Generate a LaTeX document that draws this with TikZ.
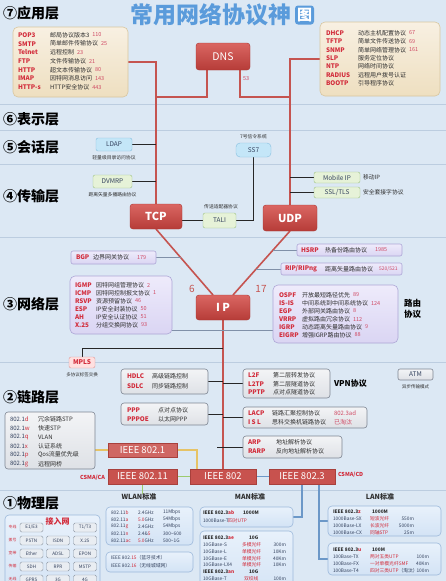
\documentclass[tikz,border=0pt]{standalone}
\usepackage{fontspec}
\setmainfont{Noto Sans CJK SC}
\usetikzlibrary{calc}
\definecolor{bgc}{HTML}{DCE8F4}
\definecolor{sepc}{HTML}{BCCDE0}
\definecolor{redL}{HTML}{C55450}
\definecolor{redT}{HTML}{DA6662}
\definecolor{redB}{HTML}{B63C38}
\definecolor{redD}{HTML}{A8332F}
\definecolor{pname}{HTML}{D22B3A}
\definecolor{numc}{HTML}{D04A64}
\definecolor{appT}{HTML}{F8F0E2}
\definecolor{appB}{HTML}{EEDFC0}
\definecolor{appD}{HTML}{D8C6A0}
\definecolor{netT}{HTML}{EEEBFB}
\definecolor{netB}{HTML}{DAD5F3}
\definecolor{netD}{HTML}{ADA6D6}
\definecolor{gryT}{HTML}{F3F4F6}
\definecolor{gryB}{HTML}{DEE1E6}
\definecolor{gryD}{HTML}{7D8592}
\definecolor{bluF}{HTML}{C4E6F8}
\definecolor{bluD}{HTML}{86BFDF}
\definecolor{grnF}{HTML}{E6F2D8}
\definecolor{grnD}{HTML}{9EC283}
\definecolor{ieeeF}{HTML}{C8524E}
\definecolor{ieeeD}{HTML}{A8403C}
\definecolor{phyT}{HTML}{E8F1FB}
\definecolor{phyB}{HTML}{D3E3F5}
\definecolor{phyD}{HTML}{9DB9DB}
\definecolor{btnF}{HTML}{E9EDF2}
\definecolor{btnD}{HTML}{8C96A3}
\definecolor{titc}{HTML}{5A9BDB}
\definecolor{txt}{HTML}{2E2E2E}
\definecolor{txtB}{HTML}{34425E}
\definecolor{gl}{HTML}{8090A8}
\definecolor{lyel}{HTML}{E6C366}
\definecolor{lgrn}{HTML}{9CCB6E}
\definecolor{lblu}{HTML}{6C98C8}
\newcommand\fsz[1]{\fontsize{#1}{#1}\selectfont}
\newcommand\rr[1]{\textcolor{pname}{#1}}
\newcommand\mkbox[7]{\node[#2, minimum width={(#5-#3)*1pt}, minimum height={(#6-#4)*1pt}] (#1) at ({(#3+#5)/2},{(#4+#6)/2}) {#7};}
\pgfdeclarelayer{bgl}
\pgfdeclarelayer{lnl}
\pgfsetlayers{bgl,lnl,main}
\tikzset{
 bx0/.style={inner sep=0pt, outer sep=0pt},
 redbox/.style={bx0, draw=redD, top color=redT, bottom color=redB, rounded corners=3pt, text=white, font=\fsz{11}\bfseries},
 appbox/.style={bx0, draw=appD, top color=appT, bottom color=appB, rounded corners=5pt, line width=0.6pt},
 netbox/.style={bx0, draw=netD, top color=netT, bottom color=netB, rounded corners=5pt, line width=0.6pt},
 grybox/.style={bx0, draw=gryD, top color=gryT, bottom color=gryB, rounded corners=3pt, line width=0.6pt},
 blubox/.style={bx0, draw=bluD, fill=bluF, rounded corners=2pt, font=\fsz{6.5}, text=txtB},
 grnbox/.style={bx0, draw=grnD, fill=grnF, rounded corners=2pt, font=\fsz{6.5}, text=txtB},
 ieeebox/.style={bx0, draw=ieeeD, fill=ieeeF, text=white, font=\fsz{9.5}},
 phybox/.style={bx0, draw=phyD, top color=phyT, bottom color=phyB, rounded corners=4pt, line width=0.6pt},
 btn/.style={bx0, draw=btnD, fill=btnF, rounded corners=1.5pt, font=\fsz{4.6}, text=txtB, minimum width=23pt, minimum height=9pt},
 pn/.style={bx0, anchor=west, font=\fsz{6.3}\bfseries, text=pname},
 pd/.style={bx0, anchor=west, font=\fsz{6}, text=txt},
 pp/.style={bx0, anchor=west, font=\fsz{5.5}, text=numc},
 capt/.style={bx0, font=\fsz{4.8}, text=txt},
 tn/.style={bx0, anchor=west, font=\fsz{4.8}, text=txtB},
 tnr/.style={bx0, anchor=east, font=\fsz{4.8}, text=txtB},
 tnb/.style={bx0, anchor=west, font=\fsz{4.8}\bfseries, text=txt},
 layer/.style={bx0, anchor=west, font=\fsz{14}\bfseries, text=black},
 redline/.style={draw=redL, line width=1.6pt},
 blk/.style={draw=black!85, line width=0.8pt},
 gline/.style={draw=gl, line width=0.9pt},
}
\begin{document}
\begin{tikzpicture}[x=1pt,y=-1pt]
\useasboundingbox (0,0) rectangle (446,581);
\begin{pgfonlayer}{bgl}
 \fill[bgc] (0,0) rectangle (446,581);
 \foreach \yy in {104,130,164,237,362,490} \draw[sepc, line width=0.6pt] (0,\yy) -- (446,\yy);
\end{pgfonlayer}

\begin{scope}
\clip (0,0) rectangle (446,581);
% title
\node[bx0, anchor=west, font=\fsz{23}\bfseries, text=titc] (title) at (130,15) {常用网络协议神};
\node[bx0, fill=titc, text=white, rounded corners=3pt, minimum size=19pt, font=\fsz{15}\bfseries, anchor=west] (titleic) at ($(title.east)+(4,0)$) {图};
% layers
\node[layer] (L7) at (3,13) {⑦应用层};
\node[layer] (L6) at (3,119) {⑥表示层};
\node[layer] (L5) at (3,147) {⑤会话层};
\node[layer] (L4) at (3,196) {④传输层};
\node[layer] (L3) at (3,304) {③网络层};
\node[layer] (L2) at (3,397) {②链路层};
\node[layer] (L1) at (3,503) {①物理层};

% application boxes
\mkbox{appL}{appbox}{13}{27}{128}{97}{}
\foreach \n/\d/\p [count=\i] in {POP3/邮局协议版本3/110, SMTP/简单邮件传输协议/25, Telnet/远程控制/23, FTP/文件传输协议/21, HTTP/超文本传输协议/80, IMAP/因特网消息访问/143, HTTP-s/HTTP安全协议/443}{
 \pgfmathsetmacro\yy{35+8.7*(\i-1)}
 \node[pn] (aln\i) at (18,\yy) {\n};
 \node[pd] (ald\i) at (50,\yy) {\d};
 \node[pp] (alp\i) at ($(ald\i.east)+(3,0)$) {\p};
}
\mkbox{appR}{appbox}{320}{22}{440}{96}{}
\foreach \n/\d/\p [count=\i] in {DHCP/动态主机配置协议/67, TFTP/简单文件传送协议/69, SNMP/简单网络管理协议/161, SLP/服务定位协议/, NTP/网络时间协议/, RADIUS/远程用户拨号认证/, BOOTP/引导程序协议/}{
 \pgfmathsetmacro\yy{33+8.4*(\i-1)}
 \node[pn] (arn\i) at (326,\yy) {\n};
 \node[pd] (ard\i) at (358,\yy) {\d};
 \node[pp] (arp\i) at ($(ard\i.east)+(3,0)$) {\p};
}
\mkbox{dns}{redbox, font=\fsz{10.5}}{196}{43}{250}{70}{DNS}
\node[pp] (n53) at (243,79) {53};

% session / transport
\mkbox{ldap}{blubox}{96}{138}{132}{151}{LDAP}
\node[capt] (ldapc) at (114,157.5) {轻量级目录访问协议};
\mkbox{dvmrp}{grnbox}{93}{175}{132}{188}{DVMRP}
\node[capt] (dvmrpc) at (112.5,195) {距离矢量多播路由协议};
\mkbox{ss7}{blubox, rounded corners=4pt}{236}{143}{271}{157}{SS7}
\node[capt] (ss7c) at (253.5,137) {7号信令系统};
\mkbox{tali}{grnbox}{203}{213}{236}{228}{TALI}
\node[capt] (talic) at (221,207) {传送适配器协议};
\mkbox{mip}{grnbox}{314}{172}{360}{183}{Mobile IP}
\node[bx0, anchor=west, font=\fsz{5.8}, text=txt] (mipc) at (363,177) {移动IP};
\mkbox{ssl}{grnbox}{314}{187}{360}{198}{SSL/TLS}
\node[bx0, anchor=west, font=\fsz{5.8}, text=txt] (sslc) at (363,192) {安全套接字协议};
\mkbox{tcp}{redbox}{130}{204}{182}{229}{TCP}
\mkbox{udp}{redbox}{263}{205}{317}{231}{UDP}

% network
\mkbox{ip}{redbox}{196}{295}{250}{320}{I P}
\node[bx0, font=\fsz{10}, text=redL] (six) at (192,289) {6};
\node[bx0, font=\fsz{10}, text=redL] (sevt) at (261,289) {17};
\mkbox{bgp}{netbox, rounded corners=2pt}{71}{251}{156}{264}{}
\node[pn] (bgpn) at (76,257.5) {BGP};
\node[pd] (bgpd) at (93,257.5) {边界网关协议};
\node[pp] (bgpp) at (137,257.5) {179};
\mkbox{hsrp}{netbox, rounded corners=2pt}{297}{244}{402}{256}{}
\node[pn] (hsrpn) at (301,250) {HSRP};
\node[pd] (hsrpd) at (325,250) {热备份路由协议};
\node[pp] (hsrpp) at (375,250) {1985};
\mkbox{rip}{netbox, rounded corners=2pt}{281}{263}{402}{275}{}
\node[pn] (ripn) at (285,269) {RIP/RIPng};
\node[pd] (ripd) at (325,269) {距离矢量路由协议};
\node[pp, font=\fsz{5}] (ripp) at (379,269) {520/521};
\mkbox{netL}{netbox}{70}{276}{172}{334}{}
\foreach \n/\d/\p [count=\i] in {IGMP/因特网组管理协议/2, ICMP/因特网控制报文协议/1, RSVP/资源预留协议/46, ESP/IP安全封装协议/50, AH/IP安全认证协议/51, X.25/分组交换网协议/93}{
 \pgfmathsetmacro\yy{285+8*(\i-1)}
 \node[pn] (nln\i) at (75,\yy) {\n};
 \node[pd] (nld\i) at (96,\yy) {\d};
 \node[pp] (nlp\i) at ($(nld\i.east)+(3,0)$) {\p};
}
\mkbox{netR}{netbox}{273}{285}{398}{343}{}
\foreach \n/\d/\p [count=\i] in {OSPF/开放最短路径优先/89, IS-IS/中间系统到中间系统协议/124, EGP/外部网关路由协议/8, VRRP/虚拟路由冗余协议/112, IGRP/动态距离矢量路由协议/9, EIGRP/增强IGRP路由协议/88}{
 \pgfmathsetmacro\yy{295+8*(\i-1)}
 \node[pn] (nrn\i) at (279,\yy) {\n};
 \node[pd] (nrd\i) at (302,\yy) {\d};
 \node[pp] (nrp\i) at ($(nrd\i.east)+(3,0)$) {\p};
}
\node[bx0, anchor=west, font=\fsz{8.5}\bfseries, align=left] (routing) at (404,309) {路由\\[3pt]协议};

% link layer
\mkbox{mpls}{bx0, draw=redL!60, fill=red!12, rounded corners=2pt, font=\fsz{6.5}\bfseries, text=pname}{69}{357}{95}{368}{MPLS}
\node[capt, font=\fsz{4.5}] (mplsc) at (82,375) {多协议标签交换};
\mkbox{atm}{grybox, rounded corners=2pt, font=\fsz{6.5}, text=txtB}{398}{369}{433}{380}{ATM}
\node[capt, font=\fsz{4.5}] (atmc) at (415.5,386.5) {异步传输模式};
\mkbox{hdlc}{grybox}{121}{369}{208}{394}{}
\node[pn] (hdlcn) at (127,376) {HDLC};
\node[pd] (hdlcd) at (152,376) {高级链路控制};
\node[pn] (sdlcn) at (127,386.5) {SDLC};
\node[pd] (sdlcd) at (152,386.5) {同步链路控制};
\mkbox{ppp}{grybox}{121}{403}{208}{425}{}
\node[pn] (pppn) at (127,410.5) {PPP};
\node[pd] (pppd) at (158,410.5) {点对点协议};
\node[pn] (pppoen) at (127,419) {PPPOE};
\node[pd] (pppoed) at (158,419) {以太网PPP};
\mkbox{l2f}{grybox}{243}{369}{330}{398}{}
\foreach \n/\d [count=\i] in {L2F/第二层转发协议, L2TP/第二层隧道协议, PPTP/点对点隧道协议}{
 \pgfmathsetmacro\yy{375.5+8.5*(\i-1)}
 \node[pn] (vpn\i) at (248,\yy) {\n};
 \node[pd] (vpd\i) at (273,\yy) {\d};
}
\node[bx0, anchor=west, font=\fsz{8}\bfseries] (vpnl) at (334,384) {VPN协议};
\mkbox{lacp}{grybox}{243}{407}{367}{428}{}
\node[pn] (lacpn) at (248,413) {LACP};
\node[pd] (lacpd) at (272,413) {链路汇聚控制协议};
\node[pp, font=\fsz{6}] (lacpp) at (334,413) {802.3ad};
\node[pn] (isln) at (248,422) {I S L};
\node[pd] (isld) at (272,422) {思科交换机链路协议};
\node[pp, font=\fsz{6}] (islp) at (334,422) {已淘汰};
\mkbox{arp}{grybox}{243}{436}{342}{458}{}
\node[pn] (arpn) at (248,442.5) {ARP};
\node[pd] (arpd) at (276,442.5) {地址解析协议};
\node[pn] (rarpn) at (248,451.5) {RARP};
\node[pd] (rarpd) at (276,451.5) {反向地址解析协议};
\mkbox{dot1}{grybox}{5}{412}{95}{469}{}
\foreach \l/\d [count=\i] in {d/冗余链路STP, w/快速STP, q/VLAN, x/认证系统, p/Qos流量优先级, g/远程网桥}{
 \pgfmathsetmacro\yy{419+9*(\i-1)}
 \node[bx0, anchor=west, font=\fsz{6}, text=txtB] (d1n\i) at (10,\yy) {802.1\rr{\l}};
 \node[pd] (d1d\i) at (38,\yy) {\d};
}
\mkbox{i8021}{ieeebox, fill=ieeeF!88!white}{108}{443}{177}{457}{IEEE 802.1}
\mkbox{i80211}{ieeebox}{108}{469}{177}{484}{IEEE 802.11}
\mkbox{i802}{ieeebox}{190}{469}{256}{484}{IEEE 802}
\mkbox{i8023}{ieeebox}{269}{469}{335}{484}{IEEE 802.3}
\node[bx0, anchor=east, font=\fsz{5.5}\bfseries, text=pname] (csmaca) at (105,477.5) {CSMA/CA};
\node[bx0, anchor=west, font=\fsz{5.5}\bfseries, text=pname] (csmacd) at (338,475) {CSMA/CD};

% physical
\node[bx0, font=\fsz{7}\bfseries, text=txt] (wlanl) at (139,497) {WLAN标准};
\node[bx0, font=\fsz{7}\bfseries, text=txt] (manl) at (250,497) {MAN标准};
\node[bx0, font=\fsz{7}\bfseries, text=txt] (lanl) at (380,497) {LAN标准};
\mkbox{wlan}{phybox}{106}{507}{193}{545}{}
\foreach \a/\b/\c [count=\i] in {802.11\rr{b}/2.4GHz/11Mbps, 802.11\rr{a}/\rr{5.0}GHz/54Mbps, 802.11\rr{g}/2.4GHz/54Mbps, 802.11\rr{n}/2.4\&\rr{5}/300\textasciitilde600, 802.11\rr{ac}/\rr{5.0}GHz/500\textasciitilde1G}{
 \pgfmathsetmacro\yy{512.5+7*(\i-1)}
 \node[tn] (wa\i) at (111,\yy) {\a};
 \node[tn] (wb\i) at (138,\yy) {\b};
 \node[tn] (wc\i) at (163,\yy) {\c};
}
\mkbox{wpan}{phybox}{106}{552}{193}{572}{}
\node[tn] (wp1) at (111,558) {IEEE 802.\rr{15}（蓝牙技术）};
\node[tn] (wp2) at (111,566) {IEEE 802.\rr{16}（无线城域网）};
\mkbox{man1}{phybox}{200}{507}{293}{527}{}
\node[tnb] (m1a) at (203,513) {IEEE 802.3\rr{ab}};
\node[tnb] (m1b) at (243,513) {1000M};
\node[tn] (m1c) at (203,520.5) {1000Base-T};
\node[tn] (m1d) at (228,520.5) {\rr{四对UTP}};
\mkbox{man2}{phybox}{200}{531}{293}{595}{}
\node[tnb] (m2a) at (203,538) {IEEE 802.3\rr{ae}};
\node[tnb] (m2b) at (249,538) {10G};
\foreach \a/\b/\c [count=\i] in {10GBase-S/多模光纤/300m, 10GBase-L/单模光纤/10Km, 10GBase-E/单模光纤/40Km, 10GBase-LX4/单模光纤/10Km}{
 \pgfmathsetmacro\yy{545+6.7*(\i-1)}
 \node[tn] (ma\i) at (203,\yy) {\a};
 \node[tn] (mb\i) at (242,\yy) {\rr{\b}};
 \node[tnr] (mc\i) at (286,\yy) {\c};
}
\node[tnb] (m2c) at (203,571.8) {IEEE 802.3\rr{an}};
\node[tnb] (m2d) at (249,571.8) {10G};
\node[tn] (m2e) at (203,578.5) {10GBase-T};
\node[tn] (m2f) at (244,578.5) {\rr{双绞线}};
\node[tnr] (m2g) at (286,578.5) {100m};
\mkbox{lan1}{phybox}{328}{506}{441}{536}{}
\node[tnb] (l1a) at (333,512) {IEEE 802.3\rr{z}};
\node[tnb] (l1b) at (372,512) {1000M};
\foreach \a/\b/\c [count=\i] in {1000Base-SX/短波光纤/550m, 1000Base-LX/长波光纤/5000m, 1000Base-CX/同轴STP/25m}{
 \pgfmathsetmacro\yy{519+6.8*(\i-1)}
 \node[tn] (la\i) at (333,\yy) {\a};
 \node[tn] (lb\i) at (370,\yy) {\rr{\b}};
 \node[tnr] (lc\i) at (414,\yy) {\c};
}
\mkbox{lan2}{phybox}{328}{543}{441}{575}{}
\node[tnb] (l2a) at (333,550) {IEEE 802.3\rr{u}};
\node[tnb] (l2b) at (372,550) {100M};
\foreach \a/\b/\c [count=\i] in {100Base-TX/两对五类UTP/100m, 100Base-FX/一对单模光纤SMF/40Km, 100Base-T4/四对三类UTP/100m}{
 \pgfmathsetmacro\yy{557+6.8*(\i-1)}
 \node[tn] (lx\i) at (333,\yy) {\a};
 \node[tn] (ly\i) at (370,\yy) {\rr{\b}\ifnum\i=3（淘汰）\fi};
 \node[tnr] (lz\i) at (429,\yy) {\c};
}
\mkbox{phy}{phybox}{5}{515}{100}{595}{}
\node[bx0, font=\fsz{8}\bfseries, text=pname] (jrw) at (57.5,521) {接入网};
\foreach \r/\y in {专线/527.5, 拨号/540.5, 宽带/553.5, 传输/566.5, 无线/579.5}{
 \node[bx0, font=\fsz{3.9}, text=pname] (rl\y) at (12.5,\y) {\r};
}
\node[btn] (b11) at (31.5,527.5) {E1/E3};
\node[btn] (b13) at (85,527.5) {T1/T3};
\node[btn] (b21) at (31.5,540.5) {PSTN};
\node[btn] (b22) at (58,540.5) {ISDN};
\node[btn] (b23) at (85,540.5) {X.25};
\node[btn] (b31) at (31.5,553.5) {Ether};
\node[btn] (b32) at (58,553.5) {ADSL};
\node[btn] (b33) at (85,553.5) {EPON};
\node[btn] (b41) at (31.5,566.5) {SDH};
\node[btn] (b42) at (58,566.5) {RPR};
\node[btn] (b43) at (85,566.5) {MSTP};
\node[btn] (b51) at (31.5,579.5) {GPRS};
\node[btn] (b52) at (58,579.5) {3G};
\node[btn] (b53) at (85,579.5) {4G};
\end{scope}

\begin{pgfonlayer}{lnl}
 % red trunk lines
 \draw[redline] (appL.east) -| (tcp.north);
 \draw[redline] (appR.west) -| (udp.north);
 \coordinate (dnsL) at ($(dns.south west)+(11,0)$);
 \coordinate (dnsR) at ($(dns.south east)+(-10,0)$);
 \coordinate (dnsJ) at ($(dns.south)+(0,27)$);
 \draw[redline] (dnsL) |- (dnsJ -| tcp.north);
 \draw[redline] (dnsR) |- (dnsJ -| udp.north);
 \coordinate (ipTL) at ($(ip.north)+(-10,0)$);
 \coordinate (ipTR) at ($(ip.north)+(10,0)$);
 \draw[redline] (tcp.south) -- (ipTL);
 \draw[redline] (udp.south) -- (ipTR);
 \draw[redline] (ip.south) -- (i802.north);
 % black connectors
 \draw[blk] (ldap.east) -- (ldap.east -| tcp.north);
 \draw[blk] (dvmrp.east) -- (dvmrp.east -| tcp.north);
 \draw[blk] (tcp.east |- tali.west) -- (tali.west);
 \draw[blk] (tali.east) -| (ss7.south);
 \draw[blk] (mip.west) -- (mip.west -| udp.north);
 \draw[blk] (ssl.west) -- (ssl.west -| udp.north);
 \draw[blk] (mpls.north) |- ($(ip.south)+(0,28)$);
 \draw[blk] (hdlc.east) -- (hdlc.east -| ip.south);
 \draw[blk] (ppp.east) -- (ppp.east -| ip.south);
 \draw[blk] (l2f.west) -- (l2f.west -| ip.south);
 \draw[blk] (lacp.west) -- (lacp.west -| ip.south);
 \draw[blk] (arp.west) -- ($(arp.west -| ip.south)+(-6,0)$);
 % grey connectors
 \coordinate (dL1) at ($(tcp.south)!0.43!(ipTL)$);
 \coordinate (dR1) at ($(udp.south)!0.30!(ipTR)$);
 \coordinate (dR2) at ($(udp.south)!0.59!(ipTR)$);
 \draw[gline] (bgp.east) -- (bgp.east -| dL1);
 \draw[gline] (hsrp.west) -- (hsrp.west -| dR1);
 \draw[gline] (rip.west) -- (rip.west -| dR2);
 \coordinate (netj) at ($(netL.south east)+(0,-4)$);
 \draw[gline] (netj) -- (netj -| netR.west);
 % IEEE connectors
 \draw[lyel, line width=1.2pt] (dot1.east |- i8021.west) -- (i8021.west);
 \draw[lyel, line width=1.2pt] (i8021.east) -| ($(i802.north west)+(7,0)$);
 \draw[lgrn, line width=1.2pt] (i80211.east) -- (i802.west);
 \draw[lgrn, line width=1.2pt] (i80211.south) -- (i80211.south |- wlanl.north);
 \draw[lblu, line width=1.2pt] (i802.east) -- (i8023.west);
 \draw[lblu, line width=1.2pt] (i8023.south) |- (man1.east);
 \coordinate (lanx) at ($(i8023.south)+(17,0)$);
 \draw[lblu, line width=1.2pt] (lanx) |- (lan2.west);
 \draw[lblu, line width=1.2pt] (lanx |- lan1.west) -- (lan1.west);
\end{pgfonlayer}
\end{tikzpicture}
\end{document}
